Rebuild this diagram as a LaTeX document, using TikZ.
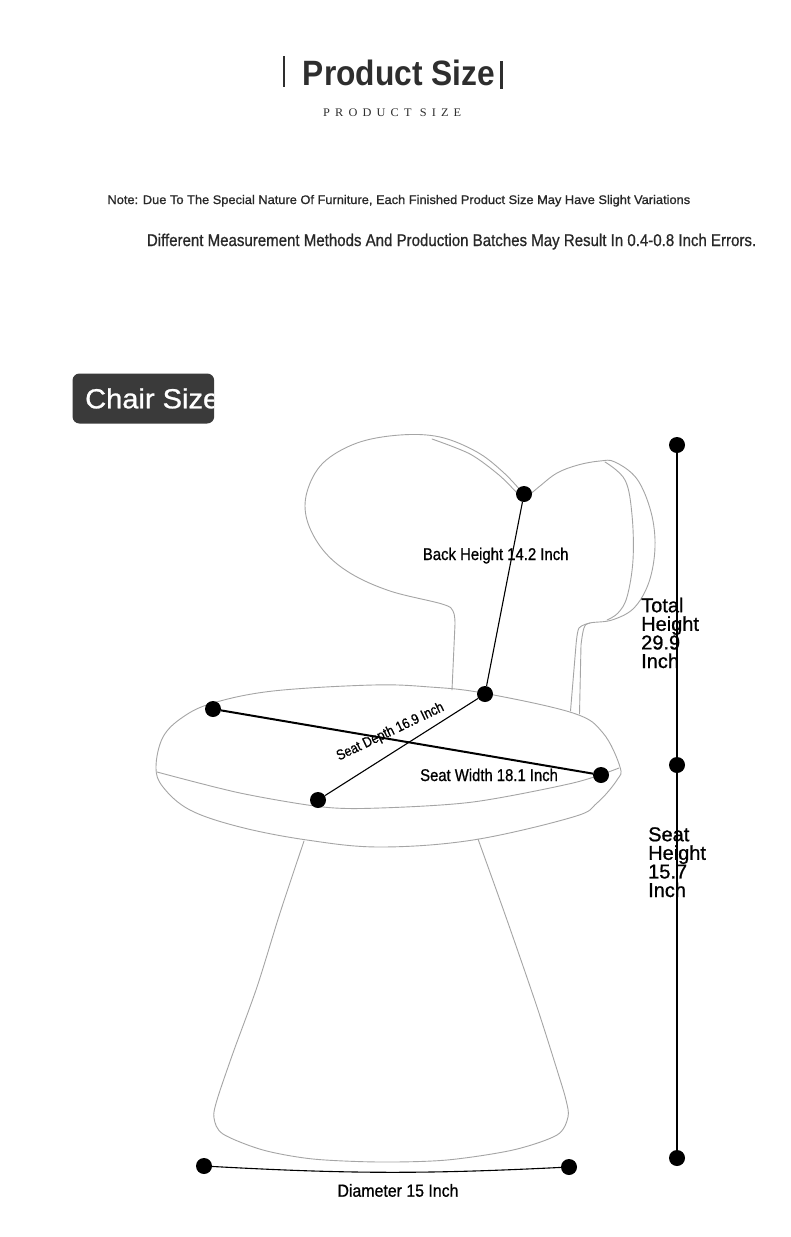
\documentclass[tikz,border=0pt]{standalone}
\usepackage{graphicx}
\usepackage{fontspec}
\setmainfont{Liberation Sans}
\newfontfamily\medfont[FakeBold=0.9]{Liberation Sans}
\newfontfamily\spacedfont[LetterSpace=42]{Liberation Serif}
\newcommand{\fitto}[3]{\resizebox{#1pt}{#2pt}{#3}}
\definecolor{titlegray}{RGB}{46,46,46}
\definecolor{notegray}{RGB}{40,40,40}
\definecolor{chairgray}{RGB}{165,165,165}
\definecolor{tagfill}{RGB}{58,58,58}
\tikzset{
  font=\medfont,
  outline/.style={
    draw=chairgray,
    line width=0.9pt,
    line join=round,
    line cap=round
  },
  dimdot/.style={
    circle,
    fill=black,
    minimum size=16pt,
    inner sep=0pt
  },
  dimline/.style={
    draw=black,
    line width=1.1pt
  },
  wideline/.style={
    dimline,
    line width=2pt
  },
  txt/.style={
    inner sep=0pt,
    anchor=base west
  },
  stack/.style={
    txt,
    align=left,
    font=\medfont\fontsize{20}{18.6}\selectfont
  }
}
\begin{document}
\begin{tikzpicture}[x=1pt,y=-1pt]
\useasboundingbox[fill=white] (0,0) rectangle (790,1237);
% header
\fill[titlegray] (282.5,56) rectangle (285,87);
\fill[titlegray] (500,61) rectangle (503,88.5);
\node[txt,text=titlegray] (title)    at (302.7,85)  {\fitto{192}{25.5}{\normalfont\bfseries Product Size}};
\node[txt,text=titlegray] (subtitle) at (323,116.7) {\fitto{138}{7.7}{\spacedfont PRODUCT SIZE}};
\node[txt,text=notegray]  (note1)    at (107.3,204) {\fitto{582.7}{9}{Note: Due To The Special Nature Of Furniture, Each Finished Product Size May Have Slight Variations}};
\node[txt,text=notegray]  (note2)    at (146.7,246) {\fitto{609.3}{12.3}{Different Measurement Methods And Production Batches May Result In 0.4-0.8 Inch Errors.}};
% tag
\node[fill=tagfill,rounded corners=7pt,minimum width=141.7pt,minimum height=50pt,
      anchor=north west,inner sep=0pt] (tag) at (72.3,373.3) {};
\begin{scope}
  \clip (tag.north west) rectangle (tag.south east);
  \node[txt,text=white] (tagtext) at (85,408.3) {\fitto{134}{20}{Chair Size}};
\end{scope}
% backrest
\draw[outline] (452,690) -- plot[smooth,tension=0.6] coordinates {(455,624) (453,611) (442,604)
  (390,591) (350,573) (323,550) (307,520) (307,492) (323,463) (357,443) (400,435)
  (440,437) (477,452) (503,472) (521,491)};
\draw[outline] plot[smooth] coordinates {(432,439) (470,454) (499,475) (517,493)};
\draw[outline] plot[smooth,tension=0.6] coordinates {(527,497) (540,486) (557,473) (578,465)
  (600,461) (615,462) (637,479) (651,512) (655,547) (649,582) (634,608) (612,620)
  (590,623) (584,628) (581,645)} -- (579.5,714);
\draw[outline] plot[smooth,tension=0.6] coordinates {(605,462) (625,480) (632,515) (633,560)
  (627,597) (618,613) (607,620)};
\draw[outline] plot[smooth] coordinates {(590,623) (579,628) (576,645)} -- (570.5,711);
% seat
\draw[outline] plot[smooth cycle,tension=0.6] coordinates {(156,767) (163,737) (183,717)
  (213,703) (273,691) (373,685) (430,687) (483,693) (573,713) (603,733) (620,767)
  (617,780) (597,803) (573,817) (473,840) (380,847) (307,840) (240,827) (190,810)
  (163,787)};
\draw[outline] plot[smooth] coordinates {(157,772) (240,793) (323,807) (380,808)
  (473,802) (573,783) (619,768)};
% base
\draw[outline] plot[smooth,tension=0.5] coordinates {(304,841) (280,913) (257,987)
  (233,1053) (217,1100) (214,1118) (223,1134) (263,1150) (313,1159) (380,1162)
  (447,1160) (513,1150) (557,1135) (568,1117) (566,1100) (558,1073) (537,1007)
  (507,920) (478,839)};
% dimensions
\node[dimdot] (bt)  at (524,494)  {};
\node[dimdot] (bb)  at (485,694)  {};
\node[dimdot] (swl) at (213,709)  {};
\node[dimdot] (swr) at (601,775)  {};
\node[dimdot] (sdf) at (318,800)  {};
\node[dimdot] (th)  at (677,445)  {};
\node[dimdot] (sh)  at (677,765)  {};
\node[dimdot] (fl)  at (677,1158) {};
\node[dimdot] (dl)  at (204,1166) {};
\node[dimdot] (dr)  at (569,1167) {};
\draw[dimline]  (bt) -- (bb);
\draw[dimline]  (sdf) -- (bb);
\draw[wideline] (swl) -- (swr);
\draw[dimline]  (th) -- (sh) -- (fl);
\draw[dimline]  (dl) to[bend right=3] (dr);
% labels
\node[txt]             (backlbl)  at (422.7,560)   {\fitto{145.6}{12.3}{Back Height 14.2 Inch}};
\node[txt,rotate=25.5] (depthlbl) at (339,760.7)   {\fitto{117}{10.4}{Seat Depth 16.9 Inch}};
\node[txt]             (widthlbl) at (420,781)     {\fitto{137.7}{12.3}{Seat Width 18.1 Inch}};
\node[stack]           (totallbl) at (641,668)     {Total\\Height\\29.9\\Inch};
\node[stack]           (seatlbl)  at (648,897)     {Seat\\Height\\15.7\\Inch};
\node[txt]             (diamlbl)  at (337.3,1196.7) {\fitto{121}{12.7}{Diameter 15 Inch}};
\end{tikzpicture}
\end{document}
